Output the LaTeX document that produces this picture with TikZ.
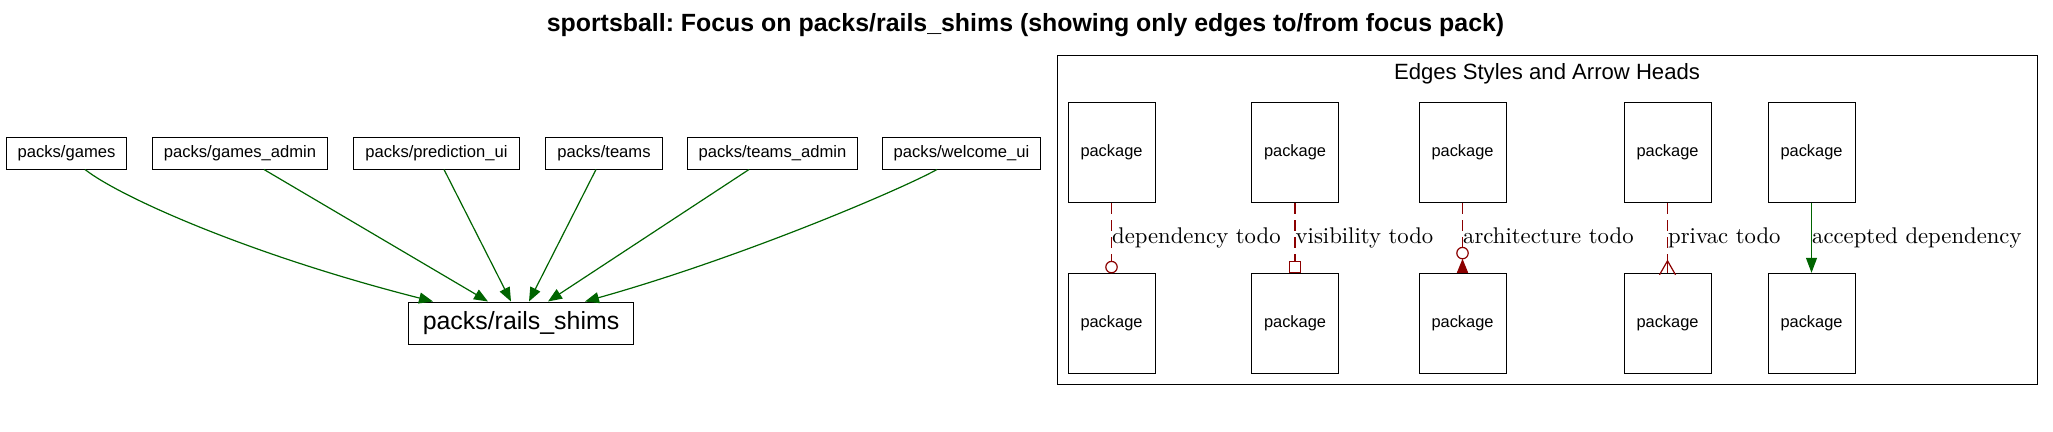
\documentclass[tikz,border=0pt]{standalone}
\usepackage{fontspec}
\newfontfamily\lib{Liberation Sans}
\newfontfamily\lmten{lmroman10-regular.otf}
\usetikzlibrary{arrows.meta}
\definecolor{depgreen}{HTML}{006400}
\definecolor{tododark}{HTML}{8B0000}
\frenchspacing
\begin{document}
\begin{tikzpicture}[x=1pt,y=-1pt,
  pkgbox/.style={draw=black, line width=1pt, fill=white,
    font=\lib\fontsize{16.6}{20}\selectfont, inner xsep=11.5pt, inner ysep=0pt,
    minimum height=32pt, text height=12.3pt, text depth=3.5pt},
  focusbox/.style={draw=black, line width=1pt, fill=white,
    font=\lib\fontsize{24.9}{30}\selectfont, inner xsep=14.5pt, inner ysep=0pt,
    minimum height=42pt, text height=18.4pt, text depth=5.2pt},
  legbox/.style={draw=black, line width=1pt, fill=white,
    font=\lib\fontsize{16.4}{20}\selectfont, inner sep=0pt,
    minimum width=87pt, minimum height=100pt},
  dep/.style={draw=depgreen, line width=1.2pt,
    -{Triangle[length=14pt,width=11pt]}},
  todoline/.style={draw=tododark, line width=1.2pt, dash pattern=on 11pt off 6pt},
  todotip/.style={draw=tododark, line width=1.2pt},
  lbl/.style={font=\lmten\fontsize{22.7}{27}\selectfont, inner sep=0pt, anchor=base west}]
\useasboundingbox (0,0) rectangle (2053,431);

% title
\node[font=\lib\bfseries\fontsize{24.9}{30}\selectfont, anchor=base, inner sep=0pt] (title) at (1025.5,31)
  {sportsball: Focus on packs/rails\_shims (showing only edges to/from focus pack)};

% main graph
\node[pkgbox] (games) at (66.5,153) {packs/games};
\node[pkgbox] (gadmin) at (240,153) {packs/games\_admin};
\node[pkgbox] (pred) at (436.5,153) {packs/prediction\_ui};
\node[pkgbox] (teams) at (604,153) {packs/teams};
\node[pkgbox] (tadmin) at (772.5,153) {packs/teams\_admin};
\node[pkgbox] (welcome) at (961.5,153) {packs/welcome\_ui};
\node[focusbox] (rails) at (521,323) {packs/rails\_shims};

\draw[dep] ([xshift=18.5pt]games.south) .. controls (120,197) and (250,255) .. ([xshift=-88pt]rails.north);
\draw[dep] ([xshift=24pt]gadmin.south) -- ([xshift=-33pt]rails.north);
\draw[dep] ([xshift=7.5pt]pred.south) -- ([xshift=-10pt]rails.north);
\draw[dep] ([xshift=-8pt]teams.south) -- ([xshift=8pt]rails.north);
\draw[dep] ([xshift=-23.5pt]tadmin.south) -- ([xshift=27pt]rails.north);
\draw[dep] ([xshift=-24.5pt]welcome.south) .. controls (900,190) and (740,258) .. ([xshift=64pt]rails.north);

% legend
\node[draw=black, line width=1pt, minimum width=980pt, minimum height=329pt, inner sep=0pt, anchor=north west] (legend) at (1057,55) {};
\node[font=\lib\fontsize{22.1}{26}\selectfont, anchor=base, inner sep=0pt] (legtitle) at (1547,79) {Edges Styles and Arrow Heads};

\node[legbox] (a1) at (1111.5,152.6) {package};
\node[legbox] (b1) at (1111.5,323.3) {package};
\node[legbox] (a2) at (1295,152.6) {package};
\node[legbox] (b2) at (1295,323.3) {package};
\node[legbox] (a3) at (1462.5,152.6) {package};
\node[legbox] (b3) at (1462.5,323.3) {package};
\node[legbox] (a4) at (1667.5,152.6) {package};
\node[legbox] (b4) at (1667.5,323.3) {package};
\node[legbox] (a5) at (1811.5,152.6) {package};
\node[legbox] (b5) at (1811.5,323.3) {package};

% dependency todo: open dot
\draw[todoline] (a1.south) -- ([yshift=11.4pt]b1.north);
\draw[todotip] ([yshift=5.7pt]b1.north) circle[radius=5.7pt];
% visibility todo: open box
\draw[todoline] (a2.south) -- ([yshift=11.4pt]b2.north);
\draw[todotip] ([xshift=-5.7pt]b2.north) rectangle ([xshift=5.7pt,yshift=11.4pt]b2.north);
% architecture todo: inverted triangle + open dot
\draw[todoline] (a3.south) -- ([yshift=25.4pt]b3.north);
\draw[todotip] ([yshift=19.7pt]b3.north) circle[radius=5.7pt];
\fill[tododark] ([yshift=14pt]b3.north) -- ([xshift=-5.7pt]b3.north) -- ([xshift=5.7pt]b3.north) -- cycle;
% privac todo: crow
\draw[todoline] (a4.south) -- ([yshift=12pt]b4.north);
\draw[todotip, line join=miter] ([xshift=-8pt,yshift=-2pt]b4.north) -- ([yshift=12pt]b4.north) -- ([xshift=8pt,yshift=-2pt]b4.north);
\draw[todotip] ([yshift=12pt]b4.north) -- (b4.north);
% accepted dependency
\draw[draw=depgreen, line width=1.2pt, -{Triangle[length=15pt,width=11pt]}] (a5.south) -- (b5.north);

\node[lbl] (l1) at (1112,243) {dependency todo};
\node[lbl] (l2) at (1295.5,243) {visibility todo};
\node[lbl] (l3) at (1463,243) {architecture todo};
\node[lbl] (l4) at (1668,243) {privac todo};
\node[lbl] (l5) at (1812,243) {accepted dependency};
\end{tikzpicture}
\end{document}
